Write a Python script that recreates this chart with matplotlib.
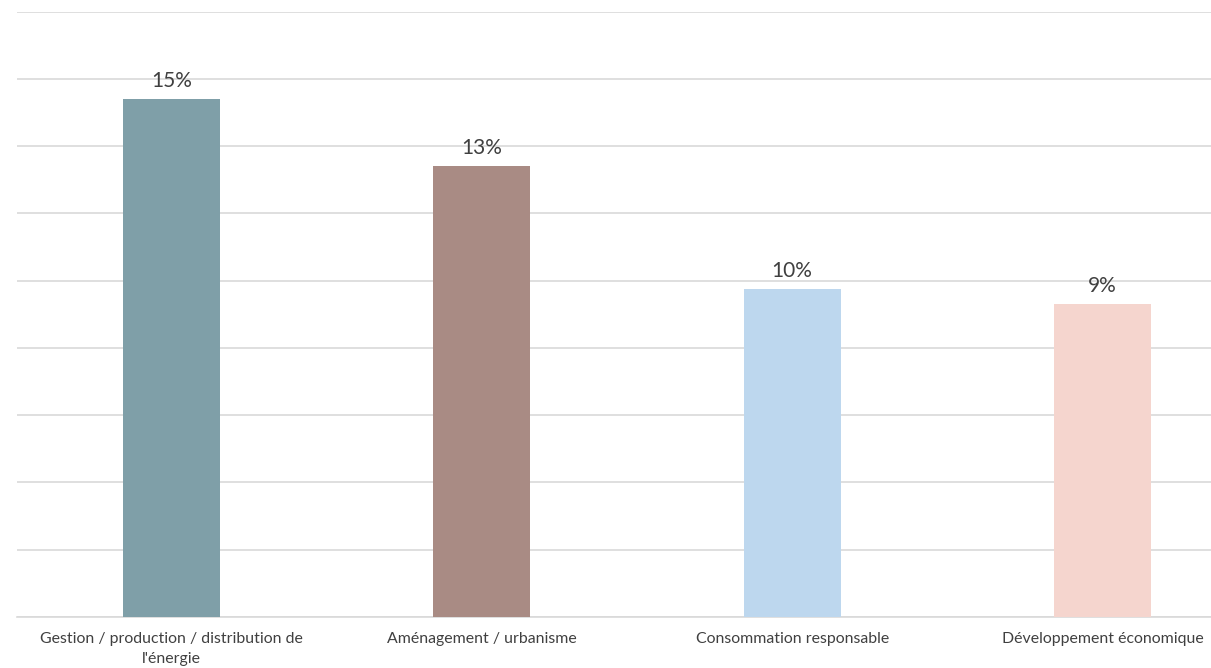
import numpy as np
import matplotlib.pyplot as plt

categories = ['Gestion / production / distribution de\nl\'énergie',
              'Aménagement / urbanisme',
              'Consommation responsable',
              'Développement économique']
values = [15.4, 13.4, 9.75, 9.3]
labels = ['15%', '13%', '10%', '9%']
colors = ['#7F9FA8', '#A98B84', '#BDD7EE', '#F5D5CE']

plt.rcParams['font.family'] = ['Lato', 'DejaVu Sans']

fig = plt.figure(figsize=(12.11, 6.68), dpi=100)
# the chart is cut off on the right in the reference, so the axes run past the figure edge
ax = fig.add_axes([16.5 / 1211, 51 / 668, 1241 / 1211, 605.5 / 668])

x = np.arange(len(categories))
ax.bar(x, values, width=0.313, color=colors, zorder=3)
for xi, v, lab in zip(x, values, labels):
    ax.text(xi, v + 0.25, lab, ha='center', va='bottom', fontsize=15, color='#404040')

ax.set_xlim(-0.5, 3.5)
ax.set_ylim(0, 18)
ax.set_yticks(np.arange(0, 19, 2))
ax.set_yticklabels([])
ax.tick_params(axis='y', length=0)
ax.tick_params(axis='x', length=0, pad=11)
ax.set_xticks(x)
ax.set_xticklabels(categories, fontsize=11.4, color='#404040', linespacing=1.5)
ax.grid(axis='y', color='#D9D9D9', linewidth=1.2, zorder=0)
for s in ['top', 'right', 'left']:
    ax.spines[s].set_visible(False)
ax.spines['bottom'].set_color('#D9D9D9')
ax.spines['bottom'].set_linewidth(1.2)

plt.savefig('out.png', dpi=100)
